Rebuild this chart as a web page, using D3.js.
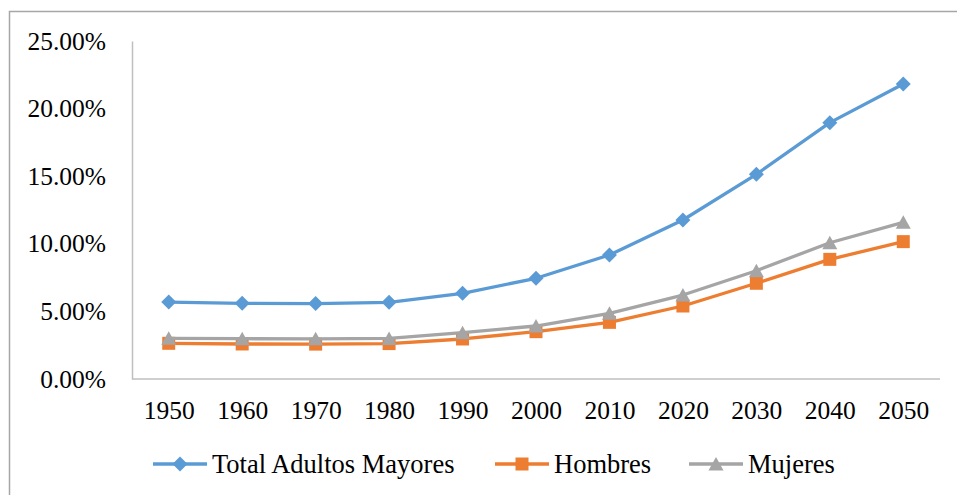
<!DOCTYPE html>
<html>
<head>
<meta charset="utf-8">
<script src="https://cdn.jsdelivr.net/npm/d3@7"></script>
<style>
  html, body { margin: 0; padding: 0; background: #fff; }
  svg { display: block; }
</style>
</head>
<body>
<svg id="chart" width="957" height="495"></svg>
<script>
// Share of older adults in the population, 1950-2050
const years = ["1950", "1960", "1970", "1980", "1990", "2000", "2010", "2020", "2030", "2040", "2050"];
const totalAdultos = [0.0569, 0.0560, 0.0558, 0.0567, 0.0634, 0.0745, 0.0917, 0.1176, 0.1514, 0.1896, 0.2182];
const hombres      = [0.0264, 0.0259, 0.0258, 0.0262, 0.0296, 0.0350, 0.0419, 0.0540, 0.0708, 0.0885, 0.1016];
const mujeres      = [0.0301, 0.0298, 0.0297, 0.0300, 0.0343, 0.0392, 0.0486, 0.0621, 0.0801, 0.1008, 0.1159];
const yTicks = [0, 0.05, 0.10, 0.15, 0.20, 0.25];
const seriesNames = ["Total Adultos Mayores", "Hombres", "Mujeres"];
const seriesColors = ["#5b9bd5", "#ed7d31", "#a5a5a5"];
const seriesShapes = ["diamond", "square", "triangle"];

const FONT = '"Liberation Serif", "Times New Roman", Tinos, serif';

const series = seriesNames.map((name, i) => ({
  name, color: seriesColors[i], shape: seriesShapes[i],
  values: [totalAdultos, hombres, mujeres][i]
}));

const svg = d3.select("#chart");

// outer chart frame (runs past the right and bottom edges)
svg.append("rect")
  .attr("x", 9.5).attr("y", 11.5)
  .attr("width", 1000).attr("height", 600)
  .attr("fill", "#fff").attr("stroke", "#a6a6a6").attr("stroke-width", 1.5);

const plot = { left: 132, right: 940, top: 41, bottom: 379 };

const x = d3.scalePoint().domain(years).range([plot.left, plot.right]).padding(0.5);
const y = d3.scaleLinear().domain([0, 0.25]).range([plot.bottom, plot.top]);

// y axis
const yAxis = svg.append("g")
  .attr("transform", `translate(${plot.left},0)`)
  .call(d3.axisLeft(y).tickValues(yTicks).tickSize(0).tickPadding(26)
    .tickFormat(d => (d * 100).toFixed(2) + "%"));
yAxis.select(".domain").attr("stroke", "#bfbfbf").attr("stroke-width", 1.5);
yAxis.selectAll("text")
  .style("font-family", FONT).style("font-size", "25.5px").attr("fill", "#000");

// x axis
const xAxis = svg.append("g")
  .attr("transform", `translate(0,${plot.bottom})`)
  .call(d3.axisBottom(x).tickSize(0).tickPadding(22));
xAxis.select(".domain").attr("stroke", "#bfbfbf").attr("stroke-width", 1.5)
  .attr("d", `M${plot.left},0H${plot.right}`);
xAxis.selectAll("text")
  .style("font-family", FONT).style("font-size", "25.5px").attr("fill", "#000");

function markerPath(shape) {
  if (shape === "diamond") return "M0,-7.5L7.5,0L0,7.5L-7.5,0Z";
  if (shape === "square") return "M-6.5,-6.5H6.5V6.5H-6.5Z";
  return "M0,-7L7.5,6.5H-7.5Z";
}

const line = d3.line().x((d, i) => x(years[i])).y(d => y(d));

series.forEach(s => {
  const g = svg.append("g");
  g.append("path")
    .attr("d", line(s.values))
    .attr("fill", "none").attr("stroke", s.color)
    .attr("stroke-width", 3.3).attr("stroke-linejoin", "round").attr("stroke-linecap", "round");
  g.selectAll("path.m").data(s.values).join("path")
    .attr("class", "m")
    .attr("transform", (d, i) => `translate(${x(years[i])},${y(d)})`)
    .attr("d", markerPath(s.shape))
    .attr("fill", s.color);
});

// legend
const legendItems = [
  { x: 153, textX: 212 },
  { x: 495, textX: 554 },
  { x: 689, textX: 748 }
];
const legendY = 464;
series.forEach((s, i) => {
  const L = legendItems[i];
  const g = svg.append("g");
  g.append("line")
    .attr("x1", L.x).attr("x2", L.x + 54)
    .attr("y1", legendY).attr("y2", legendY)
    .attr("stroke", s.color).attr("stroke-width", 3.3);
  g.append("path")
    .attr("transform", `translate(${L.x + 27},${legendY})`)
    .attr("d", markerPath(s.shape))
    .attr("fill", s.color);
  g.append("text")
    .attr("x", L.textX).attr("y", legendY)
    .attr("dy", "0.35em")
    .style("font-family", FONT).style("font-size", "26.5px")
    .attr("fill", "#000")
    .text(s.name);
});
</script>
</body>
</html>
